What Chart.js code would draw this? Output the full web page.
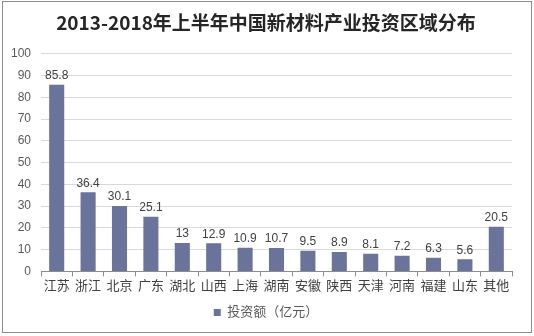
<!DOCTYPE html>
<html>
<head>
<meta charset="utf-8">
<script src="https://cdn.jsdelivr.net/npm/chart.js@4"></script>
<style>
  html, body { margin: 0; padding: 0; background: #fff; }
  #wrap { position: relative; width: 534px; height: 336px; }
  #frame { position: absolute; left: 2px; top: 1px; width: 528px; height: 330px; border: 1px solid #8c8c8c; pointer-events: none; }
</style>
</head>
<body>
<div id="wrap">
  <canvas id="c" width="534" height="336"></canvas>
  <div id="frame"></div>
</div>
<script>
const regions = ["江苏", "浙江", "北京", "广东", "湖北", "山西", "上海", "湖南", "安徽", "陕西", "天津", "河南", "福建", "山东", "其他"];
const investment = [85.8, 36.4, 30.1, 25.1, 13, 12.9, 10.9, 10.7, 9.5, 8.9, 8.1, 7.2, 6.3, 5.6, 20.5];
const yTicks = [0, 10, 20, 30, 40, 50, 60, 70, 80, 90, 100];

const latin = "'Liberation Sans', Arial, sans-serif";
const cjk = "'Liberation Sans', 'Noto Sans CJK SC', sans-serif";

// values above bars
const valueLabels = {
  id: "valueLabels",
  afterDatasetsDraw(chart) {
    const ctx = chart.ctx;
    const meta = chart.getDatasetMeta(0);
    ctx.save();
    ctx.font = "12px " + latin;
    ctx.fillStyle = "#404040";
    ctx.textAlign = "center";
    ctx.textBaseline = "bottom";
    meta.data.forEach((bar, i) => {
      ctx.fillText(String(investment[i]), bar.x, bar.y - 3);
    });
    ctx.restore();
  }
};

// title and legend sit a bit right of the canvas centre in the original
const nudgeBoxes = {
  id: "nudgeBoxes",
  afterLayout(chart) {
    const dx = 10;
    [chart.titleBlock, chart.legend].forEach(b => {
      if (!b) return;
      b.left += dx;
      b.right += dx;
    });
    if (chart.legend) chart.legend.adjustHitBoxes();
  }
};

new Chart(document.getElementById("c"), {
  type: "bar",
  data: {
    labels: regions,
    datasets: [{
      label: "投资额（亿元）",
      data: investment,
      backgroundColor: "#6a7399",
      barPercentage: 0.48,
      categoryPercentage: 1
    }]
  },
  options: {
    responsive: false,
    animation: false,
    layout: { padding: { left: 0, right: 22, top: 0, bottom: 7 } },
    plugins: {
      title: {
        display: true,
        text: "2013-2018年上半年中国新材料产业投资区域分布",
        color: "#262626",
        font: { family: "'Noto Sans CJK SC', serif", size: 19, weight: "bold" },
        padding: { top: 11, bottom: 20 }
      },
      legend: {
        position: "bottom",
        labels: {
          usePointStyle: true,
          pointStyle: "rect",
          boxWidth: 7,
          boxHeight: 7,
          color: "#595959",
          font: { family: cjk, size: 13 },
          padding: 10
        }
      },
      tooltip: { enabled: false }
    },
    scales: {
      x: {
        grid: { display: true, offset: true, drawOnChartArea: false, tickLength: 5, color: "#8c8c8c" },
        border: { color: "#8c8c8c" },
        ticks: { color: "#404040", font: { family: cjk, size: 13 }, maxRotation: 0, autoSkip: false, padding: 2 }
      },
      y: {
        min: 0,
        max: 100,
        afterBuildTicks(scale) { scale.ticks = yTicks.map(v => ({ value: v })); },
        afterFit(scale) { scale.width = 41; },
        grid: { color: "#d9d9d9", drawTicks: false },
        border: { display: false },
        ticks: { color: "#595959", font: { family: latin, size: 12 }, padding: 10 }
      }
    }
  },
  plugins: [valueLabels, nudgeBoxes]
});
</script>
</body>
</html>
